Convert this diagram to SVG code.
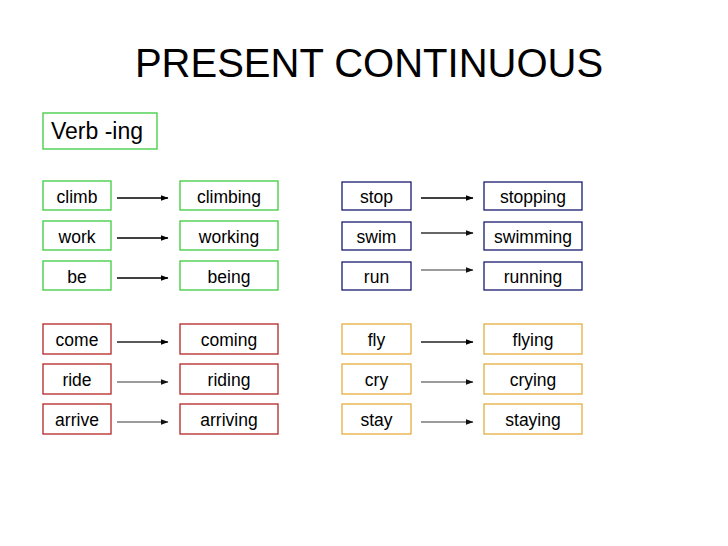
<svg xmlns="http://www.w3.org/2000/svg" width="728" height="546" viewBox="0 0 728 546">
<defs>
<style>
text{font-family:"Liberation Sans",Arial,sans-serif;fill:#000;}
.lbl{font-size:17.5px;text-anchor:middle;}
.b{fill:#fff;stroke-width:1.3;}
.g{stroke:#3ccc3c;}
.n{stroke:#1a1a70;}
.r{stroke:#b52525;}
.o{stroke:#e3ac40;}
.a{stroke-width:1.3;fill:none;}
.gr{stroke-width:1.6;}
</style>
<marker id="ak" markerWidth="8" markerHeight="6" refX="7" refY="3" orient="auto" markerUnits="userSpaceOnUse"><path d="M0,0.3 L7.5,3 L0,5.7 Z" fill="#000"/></marker>
<marker id="ag" markerWidth="8" markerHeight="6" refX="7" refY="3" orient="auto" markerUnits="userSpaceOnUse"><path d="M0,0.3 L7.5,3 L0,5.7 Z" fill="#111"/></marker>
</defs>
<rect width="728" height="546" fill="#fff"/>
<text x="369" y="77" font-size="40" text-anchor="middle">PRESENT CONTINUOUS</text>
<g id="verb-ing"><rect class="b g" x="43" y="113" width="114" height="36"/><text x="51" y="139" font-size="23">Verb -ing</text></g>

<g id="climb"><rect class="b g" x="43" y="181" width="68" height="29"/><text class="lbl" x="77" y="203">climb</text></g>
<g id="work"><rect class="b g" x="43" y="221" width="68" height="29"/><text class="lbl" x="77" y="243">work</text></g>
<g id="be"><rect class="b g" x="43" y="261" width="68" height="29"/><text class="lbl" x="77" y="283">be</text></g>
<g id="climbing"><rect class="b g" x="180" y="181" width="98" height="29"/><text class="lbl" x="229" y="203">climbing</text></g>
<g id="working"><rect class="b g" x="180" y="221" width="98" height="29"/><text class="lbl" x="229" y="243">working</text></g>
<g id="being"><rect class="b g" x="180" y="261" width="98" height="29"/><text class="lbl" x="229" y="283">being</text></g>

<g id="stop"><rect class="b n" x="342" y="182" width="69" height="28"/><text class="lbl" x="376.5" y="203">stop</text></g>
<g id="swim"><rect class="b n" x="342" y="222" width="69" height="28"/><text class="lbl" x="376.5" y="243">swim</text></g>
<g id="run"><rect class="b n" x="342" y="262" width="69" height="28"/><text class="lbl" x="376.5" y="283">run</text></g>
<g id="stopping"><rect class="b n" x="484" y="182" width="98" height="28"/><text class="lbl" x="533" y="203">stopping</text></g>
<g id="swimming"><rect class="b n" x="484" y="222" width="98" height="28"/><text class="lbl" x="533" y="243">swimming</text></g>
<g id="running"><rect class="b n" x="484" y="262" width="98" height="28"/><text class="lbl" x="533" y="283">running</text></g>

<g id="come"><rect class="b r" x="43" y="324" width="68" height="30"/><text class="lbl" x="77" y="346">come</text></g>
<g id="ride"><rect class="b r" x="43" y="364" width="68" height="30"/><text class="lbl" x="77" y="386">ride</text></g>
<g id="arrive"><rect class="b r" x="43" y="404" width="68" height="30"/><text class="lbl" x="77" y="426">arrive</text></g>
<g id="coming"><rect class="b r" x="180" y="324" width="98" height="30"/><text class="lbl" x="229" y="346">coming</text></g>
<g id="riding"><rect class="b r" x="180" y="364" width="98" height="30"/><text class="lbl" x="229" y="386">riding</text></g>
<g id="arriving"><rect class="b r" x="180" y="404" width="98" height="30"/><text class="lbl" x="229" y="426">arriving</text></g>

<g id="fly"><rect class="b o" x="342" y="324" width="69" height="30"/><text class="lbl" x="376.5" y="346">fly</text></g>
<g id="cry"><rect class="b o" x="342" y="364" width="69" height="30"/><text class="lbl" x="376.5" y="386">cry</text></g>
<g id="stay"><rect class="b o" x="342" y="404" width="69" height="30"/><text class="lbl" x="376.5" y="426">stay</text></g>
<g id="flying"><rect class="b o" x="484" y="324" width="98" height="30"/><text class="lbl" x="533" y="346">flying</text></g>
<g id="crying"><rect class="b o" x="484" y="364" width="98" height="30"/><text class="lbl" x="533" y="386">crying</text></g>
<g id="staying"><rect class="b o" x="484" y="404" width="98" height="30"/><text class="lbl" x="533" y="426">staying</text></g>

<g id="connectors">
<line class="a" x1="117" y1="198" x2="168" y2="198" stroke="#000" marker-end="url(#ak)"/>
<line class="a" x1="117" y1="238" x2="168" y2="238" stroke="#000" marker-end="url(#ak)"/>
<line class="a" x1="117" y1="278" x2="168" y2="278" stroke="#000" marker-end="url(#ak)"/>
<line class="a" x1="421" y1="198" x2="473" y2="198" stroke="#000" marker-end="url(#ak)"/>
<line class="a" x1="421" y1="233" x2="473" y2="233" stroke="#333" marker-end="url(#ag)"/>
<line class="a gr" x1="421" y1="270" x2="473" y2="270" stroke="#7a7a7a" marker-end="url(#ag)"/>
<line class="a" x1="117" y1="342" x2="168" y2="342" stroke="#222" marker-end="url(#ak)"/>
<line class="a gr" x1="117" y1="382" x2="168" y2="382" stroke="#7a7a7a" marker-end="url(#ag)"/>
<line class="a gr" x1="117" y1="422" x2="168" y2="422" stroke="#7a7a7a" marker-end="url(#ag)"/>
<line class="a" x1="421" y1="342" x2="473" y2="342" stroke="#222" marker-end="url(#ak)"/>
<line class="a gr" x1="421" y1="382" x2="473" y2="382" stroke="#7a7a7a" marker-end="url(#ag)"/>
<line class="a gr" x1="421" y1="422" x2="473" y2="422" stroke="#7a7a7a" marker-end="url(#ag)"/>
</g>
</svg>
